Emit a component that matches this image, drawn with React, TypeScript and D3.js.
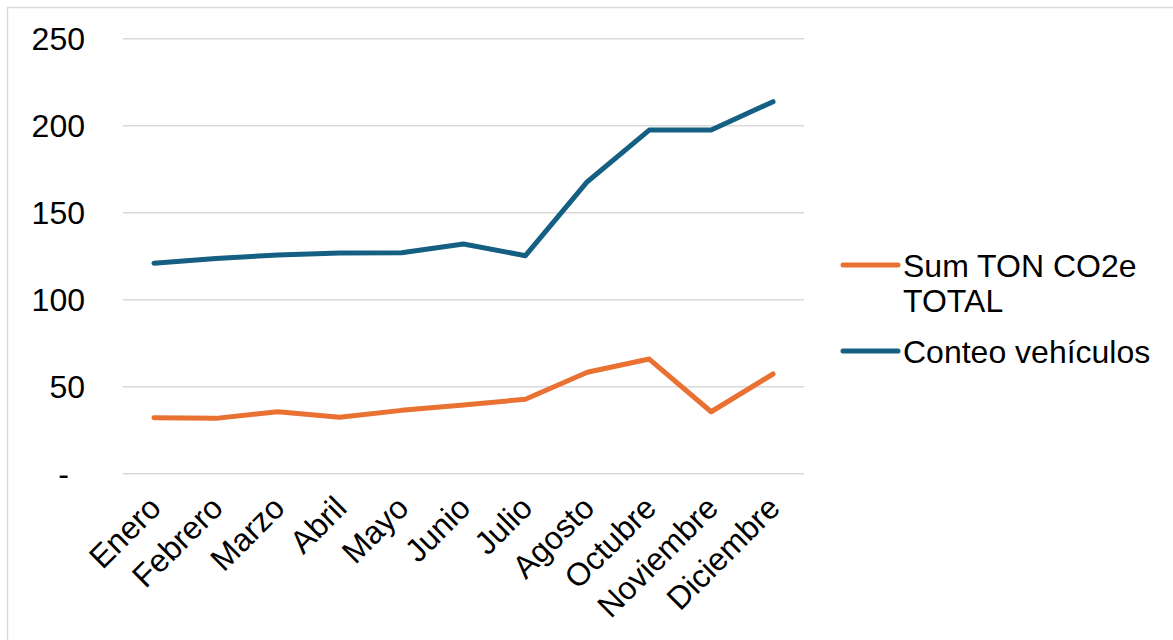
import * as d3 from 'd3';
import * as React from 'react';

const width = 1173;
const height = 640;
const margin = { top: 38.7, right: 369, bottom: 166.3, left: 123 };

const months = [
  'Enero',
  'Febrero',
  'Marzo',
  'Abril',
  'Mayo',
  'Junio',
  'Julio',
  'Agosto',
  'Octubre',
  'Noviembre',
  'Diciembre',
];

const co2Total = [32.2, 31.8, 35.6, 32.4, 36.4, 39.5, 42.8, 58.3, 65.9, 35.6, 57.3];
const vehicleCount = [121, 123.7, 125.7, 126.8, 127, 132, 125.3, 167.8, 197.5, 197.5, 213.8];

const yTicks = [0, 50, 100, 150, 200, 250];

const series = [
  { name: ['Sum TON CO2e', 'TOTAL'], values: co2Total, color: '#E97132' },
  { name: ['Conteo vehículos'], values: vehicleCount, color: '#156082' },
];

const font = 'Arial, "Liberation Sans", sans-serif';
const fontSize = 32;

export default function App() {
  const x = d3
    .scaleBand()
    .domain(months)
    .range([margin.left, width - margin.right]);

  const y = d3
    .scaleLinear()
    .domain([0, 250])
    .range([height - margin.bottom, margin.top]);

  const line = d3
    .line<number>()
    .x((_, i) => (x(months[i]) as number) + x.bandwidth() / 2)
    .y(d => y(d));

  const legendX = 843;
  const legendRows = [265, 351];

  return (
    <svg
      width={width}
      height={height}
      style={{ position: 'absolute', left: 0, top: 0, background: '#fff' }}
      fontFamily={font}
    >
      <rect x={7.5} y={7.5} width={width} height={height} fill="#fff" stroke="#d9d9d9" strokeWidth={1.5} />

      {/* gridlines + y labels (accounting style: zero shown as a dash) */}
      {yTicks.map(t => (
        <g key={t}>
          <line
            x1={margin.left}
            x2={width - margin.right}
            y1={y(t)}
            y2={y(t)}
            stroke="#d9d9d9"
            strokeWidth={1.5}
          />
          <text
            x={t === 0 ? 69 : 85}
            y={y(t)}
            dy="0.35em"
            textAnchor="end"
            fontSize={fontSize}
            fill="#000"
          >
            {t === 0 ? '-' : t}
          </text>
        </g>
      ))}

      {/* x labels, rotated -45 */}
      {months.map(m => {
        const cx = (x(m) as number) + x.bandwidth() / 2 + 1;
        const cy = 502;
        return (
          <text
            key={m}
            x={cx}
            y={cy}
            dy="0.35em"
            textAnchor="end"
            fontSize={fontSize}
            fill="#000"
            transform={`rotate(-45, ${cx}, ${cy})`}
          >
            {m}
          </text>
        );
      })}

      {/* lines */}
      {series.map(s => (
        <path
          key={s.color}
          d={line(s.values) || ''}
          fill="none"
          stroke={s.color}
          strokeWidth={5}
          strokeLinejoin="round"
          strokeLinecap="round"
        />
      ))}

      {/* legend */}
      {series.map((s, i) => (
        <g key={s.color}>
          <line
            x1={legendX}
            x2={legendX + 55}
            y1={legendRows[i]}
            y2={legendRows[i]}
            stroke={s.color}
            strokeWidth={5}
            strokeLinecap="round"
          />
          <text x={legendX + 60} y={legendRows[i]} fontSize={fontSize} fill="#000">
            {s.name.map((n, j) => (
              <tspan key={n} x={legendX + 60} dy={j === 0 ? 11.5 : 35}>
                {n}
              </tspan>
            ))}
          </text>
        </g>
      ))}
    </svg>
  );
}
